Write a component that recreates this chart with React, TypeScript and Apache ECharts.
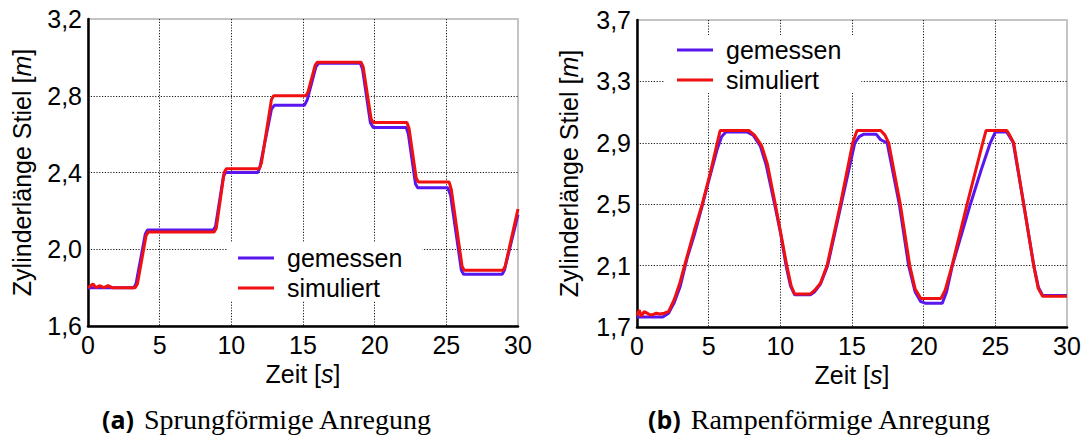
import React, { useEffect, useRef } from "react";
import * as echarts from "echarts";

// ---- Data (a) Sprungförmige Anregung ----
const stepMeasT = [0, 3.2, 3.35, 4.0, 4.15, 8.75, 8.9, 9.45, 9.6, 11.85, 12.0, 12.8, 13.0, 15.1, 15.3, 15.9, 16.1, 19.0, 19.15, 19.7, 19.9, 22.2, 22.35, 22.85, 23.0, 25.1, 25.3, 26.05, 26.2, 28.9, 29.05, 30];
const stepMeasV = [1.80, 1.80, 1.82, 2.08, 2.10, 2.10, 2.12, 2.38, 2.40, 2.40, 2.43, 2.73, 2.75, 2.75, 2.78, 2.95, 2.97, 2.97, 2.94, 2.66, 2.635, 2.635, 2.60, 2.34, 2.32, 2.32, 2.28, 1.89, 1.87, 1.87, 1.89, 2.18];
const stepSimT = [0, 0.2, 0.35, 0.55, 0.8, 1.1, 1.4, 1.7, 3.3, 3.45, 4.05, 4.2, 8.8, 8.95, 9.5, 9.65, 11.95, 12.1, 12.8, 12.95, 15.2, 15.35, 15.85, 16.0, 19.05, 19.2, 19.75, 19.9, 22.25, 22.4, 22.9, 23.05, 25.2, 25.35, 26.1, 26.25, 28.95, 29.1, 30];
const stepSimV = [1.80, 1.81, 1.82, 1.80, 1.81, 1.80, 1.81, 1.80, 1.80, 1.82, 2.07, 2.09, 2.09, 2.11, 2.40, 2.42, 2.42, 2.45, 2.78, 2.80, 2.80, 2.82, 2.96, 2.975, 2.975, 2.95, 2.68, 2.66, 2.66, 2.63, 2.37, 2.35, 2.35, 2.31, 1.91, 1.89, 1.89, 1.91, 2.21];

// ---- Data (b) Rampenförmige Anregung ----
const rampMeasT = [0, 1.8, 2.2, 2.6, 3.0, 3.5, 4.0, 4.55, 5.0, 5.6, 5.9, 6.2, 7.7, 8.1, 8.6, 9.0, 9.6, 10.0, 10.4, 10.7, 11.0, 12.1, 12.4, 12.8, 13.3, 14.25, 15.2, 15.5, 15.8, 16.7, 17.0, 17.45, 18.3, 18.95, 19.4, 19.8, 20.1, 21.3, 21.6, 22.0, 23.26, 24.0, 24.65, 25.0, 25.8, 26.25, 26.98, 27.68, 28.0, 28.3, 30];
const rampMeasV = [1.765, 1.765, 1.79, 1.86, 1.96, 2.15, 2.3, 2.49, 2.65, 2.86, 2.94, 2.97, 2.97, 2.95, 2.88, 2.76, 2.5, 2.32, 2.1, 1.97, 1.91, 1.91, 1.93, 1.98, 2.1, 2.5, 2.9, 2.94, 2.955, 2.955, 2.92, 2.9, 2.5, 2.1, 1.93, 1.865, 1.855, 1.855, 1.93, 2.1, 2.5, 2.72, 2.9, 2.97, 2.97, 2.9, 2.5, 2.1, 1.96, 1.905, 1.905];
const rampSimT = [0, 0.15, 0.3, 0.5, 0.7, 0.9, 1.1, 1.35, 1.6, 1.9, 2.2, 2.6, 3.0, 3.2, 4.0, 4.55, 5.1, 5.6, 5.8, 7.8, 8.2, 8.7, 9.1, 9.65, 10.05, 10.45, 10.75, 11.0, 12.1, 12.4, 12.8, 13.26, 14.19, 15.05, 15.35, 17.0, 17.3, 17.56, 18.37, 19.03, 19.4, 19.8, 21.2, 21.5, 21.98, 23.03, 24.12, 24.35, 25.8, 26.0, 26.28, 26.98, 27.68, 28.0, 28.3, 30];
const rampSimV = [1.775, 1.81, 1.77, 1.8, 1.79, 1.78, 1.78, 1.79, 1.785, 1.79, 1.80, 1.88, 1.99, 2.06, 2.33, 2.5, 2.7, 2.9, 2.98, 2.98, 2.95, 2.88, 2.76, 2.5, 2.3, 2.1, 1.97, 1.915, 1.915, 1.94, 1.985, 2.1, 2.5, 2.9, 2.98, 2.98, 2.95, 2.9, 2.5, 2.1, 1.95, 1.885, 1.885, 1.94, 2.1, 2.5, 2.9, 2.98, 2.98, 2.95, 2.9, 2.5, 2.1, 1.95, 1.9, 1.9];

const seriesNames = ["gemessen", "simuliert"];
const colors = ["#5a16ee", "#f01010"];
const captions = [
  { tag: "(a)", text: "Sprungförmige Anregung" },
  { tag: "(b)", text: "Rampenförmige Anregung" },
];

const FONT = "'Liberation Sans', Arial, sans-serif";
const zip = (t: number[], v: number[]) => t.map((x, i) => [x, v[i]]);
const fmt = (v: number) => (Math.round(v * 10) / 10).toFixed(1).replace(".", ",");

export default function App() {
  const ref = useRef<HTMLDivElement>(null);
  useEffect(() => {
    document.body.style.margin = "0";
    const chart = echarts.init(ref.current!, null, { renderer: "svg" });
    const grids = [
      { left: 88, top: 19, width: 430, height: 307 },
      { left: 637, top: 20, width: 430, height: 307 },
    ];
    const yRanges = [
      { min: 1.6, max: 3.2 },
      { min: 1.7, max: 3.7 },
    ];
    const splitStyle = { show: true, showMinLine: false, showMaxLine: false, lineStyle: { color: "#1a1a1a", width: 1, type: [1.2, 1.6] } };
    const xAxes = grids.map((_, i) => ({
      type: "value",
      gridIndex: i,
      min: 0,
      max: 30,
      interval: 5,
      name: "Zeit [{i|s}]",
      nameLocation: "middle",
      nameGap: 33,
      nameTextStyle: { fontFamily: FONT, fontSize: 25, color: "#000", rich: { i: { fontFamily: FONT, fontSize: 25, fontStyle: "italic", color: "#000" } } },
      axisLine: { show: true, onZero: false, lineStyle: { color: "#000", width: 2.5 } },
      axisTick: { show: false },
      axisLabel: { fontFamily: FONT, fontSize: 25, color: "#000", margin: 6 },
      splitLine: splitStyle,
    }));
    const yAxes = grids.map((_, i) => ({
      type: "value",
      gridIndex: i,
      min: yRanges[i].min,
      max: yRanges[i].max,
      interval: 0.4,
      name: "Zylinderlänge Stiel [{i|m}]",
      nameLocation: "middle",
      nameRotate: 90,
      nameGap: i === 0 ? 54 : 56,
      nameTextStyle: { fontFamily: FONT, fontSize: 25, color: "#000", rich: { i: { fontFamily: FONT, fontSize: 25, fontStyle: "italic", color: "#000" } } },
      axisLine: { show: true, onZero: false, lineStyle: { color: "#000", width: 2.5 } },
      axisTick: { show: false },
      axisLabel: { fontFamily: FONT, fontSize: 25, color: "#000", margin: 6, formatter: (v: number) => fmt(v) },
      splitLine: splitStyle,
    }));
    const datasets = [
      [zip(stepMeasT, stepMeasV), zip(stepSimT, stepSimV)],
      [zip(rampMeasT, rampMeasV), zip(rampSimT, rampSimV)],
    ];
    const series: any[] = [];
    datasets.forEach((pair, gi) => {
      pair.forEach((data, si) => {
        series.push({
          type: "line",
          name: seriesNames[si],
          xAxisIndex: gi,
          yAxisIndex: gi,
          data,
          showSymbol: false,
          color: colors[si],
          lineStyle: { color: colors[si], width: 3 },
          z: 2 + si,
        });
      });
    });
    const legendBase = {
      orient: "vertical",
      icon: "rect",
      itemWidth: 36,
      itemHeight: 3,
      itemGap: 4,
      backgroundColor: "#fff",
      selectedMode: false,
      data: seriesNames,
      textStyle: { fontFamily: FONT, fontSize: 25, color: "#000", lineHeight: 26, padding: [0, 0, 0, 8] },
    };
    const legends = [
      { ...legendBase, left: 227, top: 243, padding: [2, 20, 0, 11] },
      { ...legendBase, left: 665, top: 35, padding: [2, 20, 0, 12] },
    ];
    const capX = [102, 648];
    const graphic: any[] = captions.map((c, i) => ({
      type: "text",
      x: capX[i],
      y: 419,
      style: {
        text: `{b|${c.tag}}{t|${c.text}}`,
        verticalAlign: "middle",
        fill: "#000",
        rich: {
          b: { fontFamily: "'Open Sans', sans-serif", fontWeight: "bold", fontSize: 25, lineHeight: 28, fill: "#000", padding: [0, 10, 0, 0] },
          t: { fontFamily: "'Liberation Serif', serif", fontSize: 28, lineHeight: 28, fill: "#000" },
        },
      },
    }));
    chart.setOption({
      animation: false,
      backgroundColor: "#fff",
      grid: grids.map((g) => ({ ...g, show: true, borderColor: "#c4c4c4", borderWidth: 2, backgroundColor: "transparent" })),
      xAxis: xAxes,
      yAxis: yAxes,
      legend: legends,
      series,
      graphic,
    });
    return () => chart.dispose();
  }, []);
  return <div ref={ref} style={{ width: 1087, height: 435 }} />;
}
